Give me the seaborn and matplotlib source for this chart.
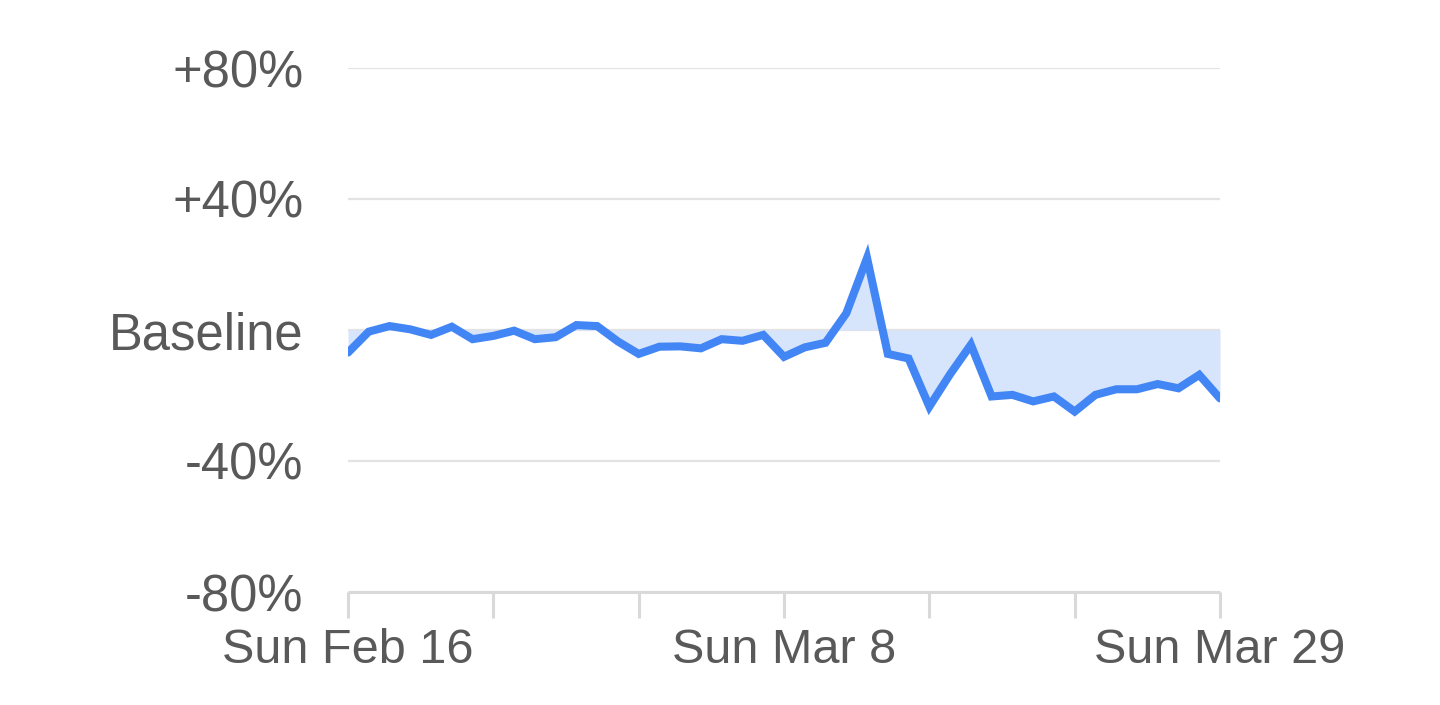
import pandas as pd
import numpy as np
import matplotlib
matplotlib.use("Agg")
import matplotlib.pyplot as plt
import seaborn as sns

# ---- data (percent change from baseline, daily) ----
start_date = "2020-02-16"
end_date = "2020-03-29"
change_pct = [
    -6.9, -0.5, 1.2, 0.2, -1.5, 1.0, -2.8, -1.8, -0.2, -2.8,
    -2.2, 1.5, 1.2, -3.5, -7.3, -5.1, -5.0, -5.6, -2.8, -3.3,
    -1.5, -8.2, -5.3, -3.9, 5.1, 22.0, -7.3, -8.7, -23.4, -13.5,
    -4.5, -20.3, -19.8, -21.8, -20.3, -24.9, -19.8, -18.1, -18.1, -16.5,
    -17.8, -13.7, -20.9,
]
y_ticks = [-80, -40, 0, 40, 80]
y_labels = ["-80%", "-40%", "Baseline", "+40%", "+80%"]
x_tick_every = 7
x_labels = {"2020-02-16": "Sun Feb 16", "2020-03-08": "Sun Mar 8", "2020-03-29": "Sun Mar 29"}

dates = pd.date_range(start_date, end_date, freq="D")
df = pd.DataFrame({"date": dates, "change": change_pct})

# ---- style ----
sns.set_style("white")
plt.rcParams["font.family"] = ["Liberation Sans", "DejaVu Sans"]
text_grey = "#595959"
line_blue = "#4285f4"
fill_blue = "#d6e4fc"
grid_grey = "#e3e3e3"
axis_grey = "#d9d9d9"

fig = plt.figure(figsize=(14.4, 7.05), dpi=100)
ax = fig.add_axes([348 / 1440, 1 - 592 / 705, (1220 - 348) / 1440, (592 - 68) / 705])

ax.fill_between(df["date"], df["change"], 0, color=fill_blue, lw=0, zorder=1)
sns.lineplot(data=df, x="date", y="change", ax=ax, color=line_blue, lw=5.8,
             solid_joinstyle="miter", zorder=3)

ax.set_xlim(dates[0], dates[-1])
ax.set_ylim(-80, 80)

# grid lines
for yv in y_ticks[1:]:
    ax.axhline(yv, color=grid_grey, lw=1.6, zorder=0)

ax.set_yticks(y_ticks)
ax.set_yticklabels(y_labels)
tick_dates = dates[::x_tick_every]
ax.set_xticks(tick_dates)
ax.set_xticklabels([x_labels.get(d.strftime("%Y-%m-%d"), "") for d in tick_dates])

ax.tick_params(axis="y", left=False, length=0, pad=32, labelsize=36.5, labelcolor=text_grey)
ax.tick_params(axis="x", bottom=True, length=19, width=2.2, color=axis_grey, pad=7,
               labelsize=35, labelcolor=text_grey, direction="out")

for side in ["top", "right", "left"]:
    ax.spines[side].set_visible(False)
ax.spines["bottom"].set_color(axis_grey)
ax.spines["bottom"].set_linewidth(2.2)
ax.spines["bottom"].set_capstyle("butt")

ax.set_xlabel("")
ax.set_ylabel("")

fig.savefig("out.png", dpi=100, facecolor="white")
